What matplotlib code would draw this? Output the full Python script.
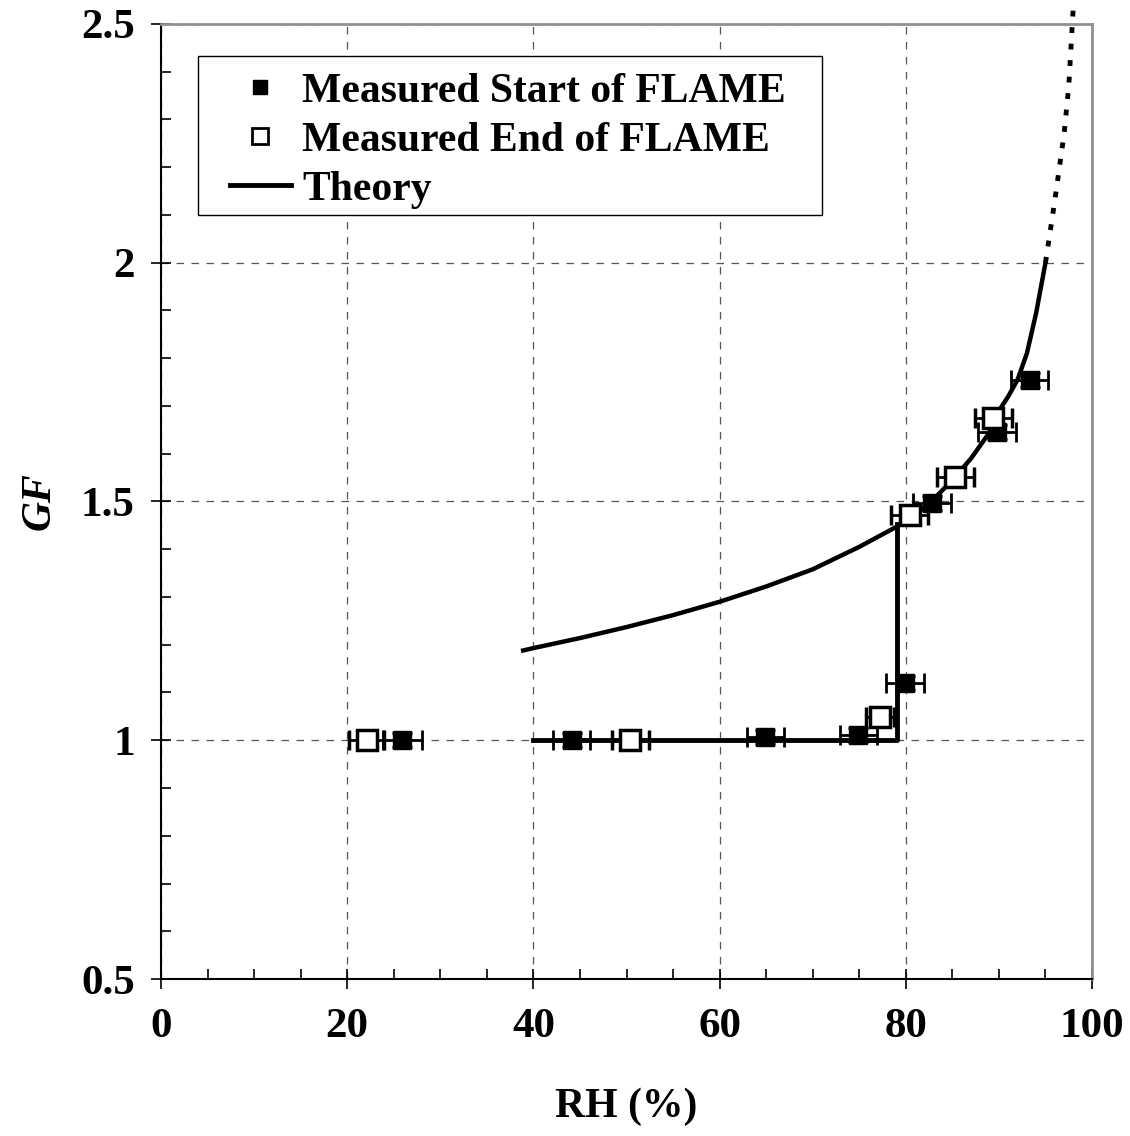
import matplotlib
matplotlib.use("Agg")
import matplotlib.pyplot as plt
from matplotlib.lines import Line2D
from matplotlib.patches import Rectangle
from matplotlib.ticker import MultipleLocator

# measured start of FLAME (filled squares)
start_rh = [25.9, 44.1, 64.9, 74.9, 79.9, 82.8, 89.8, 93.3]
start_gf = [1.00, 1.00, 1.007, 1.011, 1.12, 1.497, 1.645, 1.755]
start_rh_err = [2.1, 2.0, 2.0, 2.0, 2.0, 2.0, 2.0, 2.0]
start_gf_err = [0.015, 0.015, 0.015, 0.015, 0.015, 0.015, 0.015, 0.015]

# measured end of FLAME (open squares)
end_rh = [22.1, 50.4, 77.2, 80.4, 85.3, 89.4]
end_gf = [1.00, 1.00, 1.049, 1.472, 1.551, 1.675]
end_rh_err = [1.9, 2.0, 1.5, 2.0, 2.0, 2.0]

# theory: efflorescence branch, deliquescence branch, extrapolated part
eff_rh = [40, 79, 79]
eff_gf = [1.0, 1.0, 1.452]
theory_rh = [38.9, 40, 45, 50, 55, 60, 65, 70, 75, 79, 81, 83, 85, 87, 89,
             90, 91, 92, 93, 94, 95]
theory_gf = [1.188, 1.193, 1.214, 1.237, 1.262, 1.290, 1.322, 1.358, 1.405, 1.447,
             1.472, 1.505, 1.545, 1.59, 1.645, 1.69, 1.72, 1.755, 1.81, 1.895, 2.0]
extra_rh = [95, 96, 97, 97.5, 98]
extra_gf = [2.0, 2.13, 2.27, 2.37, 2.54]

plt.rcParams['font.family'] = ['Liberation Serif', 'DejaVu Serif']
plt.rcParams['font.weight'] = 'bold'

fig = plt.figure(figsize=(11.3, 11.36), dpi=100)
ax = fig.add_axes([0.1425, 0.1382, 0.9664 - 0.1425, 0.9789 - 0.1382])

ax.plot(theory_rh, theory_gf, color='black', lw=3.2, zorder=2)
ax.plot(eff_rh, eff_gf, color='black', lw=3.5, zorder=2)
ax.plot(extra_rh, extra_gf, color='black', lw=3.5, ls=(0, (1.2, 2.2)),
        zorder=2, clip_on=False)

ax.errorbar(start_rh, start_gf, xerr=start_rh_err, yerr=start_gf_err, fmt='s',
            color='black', mfc='black', mec='black', ms=13, ecolor='black',
            elinewidth=2, capsize=7, capthick=2, zorder=3)
ax.errorbar(end_rh, end_gf, xerr=end_rh_err, fmt='s', color='black',
            mfc='white', mec='black', mew=2.5, ms=15, ecolor='black',
            elinewidth=2, capsize=7, capthick=2, zorder=4)

ax.set_xlim(0, 100)
ax.set_ylim(0.5, 2.5)
ax.xaxis.set_major_locator(MultipleLocator(20))
ax.xaxis.set_minor_locator(MultipleLocator(5))
ax.yaxis.set_minor_locator(MultipleLocator(0.1))
ax.set_yticks([0.5, 1, 1.5, 2, 2.5])
ax.set_yticklabels(['0.5', '1', '1.5', '2', '2.5'])

ax.grid(True, which='major', color='#555555', ls=(0, (6, 6)), lw=0.9)
ax.tick_params(which='major', direction='inout', length=14, width=1.2,
               labelsize=31, pad=14, top=False, right=False)
ax.tick_params(axis='y', which='major', pad=12)
ax.tick_params(which='minor', direction='in', length=7, width=1.2,
               top=False, right=False)
for s in ['left', 'bottom']:
    ax.spines[s].set_color('black')
    ax.spines[s].set_linewidth(1.5)
for s in ['top', 'right']:
    ax.spines[s].set_color('#909090')
    ax.spines[s].set_linewidth(2)

ax.set_xlabel('RH (%)', fontsize=30, fontweight='bold', labelpad=30)
ax.set_ylabel('GF', fontsize=30, fontweight='bold', style='italic', labelpad=16)

# legend frame drawn separately so the handle can sit inset like the original
ax.add_patch(Rectangle((0.0397, 0.800), 0.670, 0.1665, transform=ax.transAxes,
                       facecolor='white', edgecolor='black', lw=1, zorder=5))
handles = [
    Line2D([], [], marker='s', ls='none', color='black', ms=10),
    Line2D([], [], marker='s', ls='none', mfc='white', mec='black', mew=2, ms=11),
    Line2D([], [], color='black', lw=3.5),
]
labels = ['Measured Start of FLAME', 'Measured End of FLAME', 'Theory']
leg = ax.legend(handles, labels, loc='upper left', bbox_to_anchor=(0.074, 0.949),
                prop={'size': 30, 'weight': 'bold'}, frameon=False,
                handlelength=1.46, handletextpad=0.27, labelspacing=0.26,
                borderpad=0, borderaxespad=0)
leg.set_zorder(6)

fig.savefig('out.png', dpi=100, facecolor='white')
